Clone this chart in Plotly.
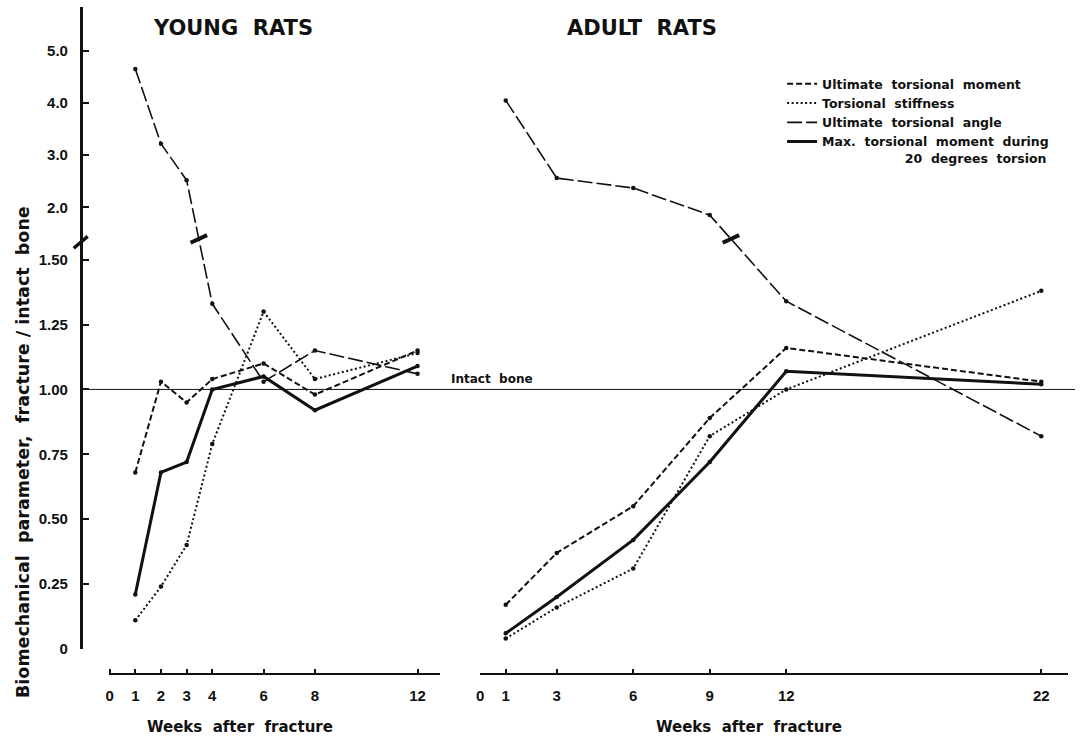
import numpy as np
import plotly.graph_objects as go

# ---------------- data ----------------
young_weeks = [1, 2, 3, 4, 6, 8, 12]
young_moment = [0.68, 1.03, 0.95, 1.04, 1.10, 0.98, 1.15]
young_stiffness = [0.11, 0.24, 0.40, 0.79, 1.30, 1.04, 1.14]
young_angle = [4.65, 3.22, 2.52, 1.33, 1.03, 1.15, 1.06]
young_max20 = [0.21, 0.68, 0.72, 1.00, 1.05, 0.92, 1.09]

adult_weeks = [1, 3, 6, 9, 12, 22]
adult_moment = [0.17, 0.37, 0.55, 0.89, 1.16, 1.03]
adult_stiffness = [0.04, 0.16, 0.31, 0.82, 1.00, 1.38]
adult_angle = [4.05, 2.56, 2.37, 1.85, 1.34, 0.82]
adult_max20 = [0.06, 0.20, 0.42, 0.72, 1.07, 1.02]

y_tick_values = [0, 0.25, 0.5, 0.75, 1.0, 1.25, 1.5, 2.0, 3.0, 4.0, 5.0]
y_tick_labels = ["0", "0.25", "0.50", "0.75", "1.00", "1.25", "1.50", "2.0", "3.0", "4.0", "5.0"]
young_xticks = [0, 1, 2, 3, 4, 6, 8, 12]
adult_xticks = [0, 1, 3, 6, 9, 12, 22]

NB = "&nbsp;"
series_names = [
    f"Ultimate{NB*2}torsional{NB*2}moment",
    f"Torsional{NB*2}stiffness",
    f"Ultimate{NB*2}torsional{NB*2}angle",
    f"Max.{NB*2}torsional{NB*2}moment{NB*2}during<br>" + NB * 19 + f"20{NB*2}degrees{NB*2}torsion",
]

# ---------------- broken y scale ----------------
BREAK_LOW = 1.5      # lower linear part 0 .. 1.5
UPPER_BASE = 1.702   # display position of value 2.0
UPPER_SCALE = 0.201  # compression of upper part (2 .. 5)
BREAK_POS = 1.58     # display position of the break marks


def to_display(v):
    v = np.asarray(v, dtype=float)
    return np.where(v <= BREAK_LOW, v, UPPER_BASE + (v - 2.0) * UPPER_SCALE)


W, H = 1083, 739
INK = "#111111"
FONT_N = "Liberation Sans Narrow, Liberation Sans, Arial, sans-serif"
FONT_W = "DejaVu Sans, Verdana, sans-serif"

styles = [
    dict(dash="6px,3px", width=2.0),
    dict(dash="2px,2.5px", width=2.0),
    dict(dash="15px,4px", width=1.6),
    dict(dash="solid", width=3.0),
]

fig = go.Figure()

panels = [
    ("x", young_weeks, [young_moment, young_stiffness, young_angle, young_max20], True),
    ("x2", adult_weeks, [adult_moment, adult_stiffness, adult_angle, adult_max20], False),
]
for xa, weeks, series, show in panels:
    for name, vals, st in zip(series_names, series, styles):
        yd = to_display(vals)
        fig.add_trace(go.Scatter(
            x=weeks, y=yd, xaxis=xa, yaxis="y",
            mode="lines", name=name, showlegend=show,
            line=dict(color=INK, width=st["width"], dash=st["dash"]),
            cliponaxis=False,
        ))
        fig.add_trace(go.Scatter(
            x=weeks, y=yd, xaxis=xa, yaxis="y",
            mode="markers", name=name, showlegend=False,
            marker=dict(size=4.5, color=INK),
            cliponaxis=False,
        ))
    # break mark on the ultimate torsional angle curve
    ang = to_display(series[2])
    for i in range(len(ang) - 1):
        if ang[i] > BREAK_POS >= ang[i + 1]:
            t = (ang[i] - BREAK_POS) / (ang[i] - ang[i + 1])
            xb = weeks[i] + t * (weeks[i + 1] - weeks[i])
            fig.add_trace(go.Scatter(
                x=[xb], y=[BREAK_POS], xaxis=xa, yaxis="y", mode="markers",
                showlegend=False, hoverinfo="skip", cliponaxis=False,
                marker=dict(symbol="line-ew", size=13, angle=-25,
                            line=dict(color=INK, width=4)),
            ))

tickfont = dict(family=FONT_N, size=15, color=INK, weight="bold")


def xaxis_style(domain, rng, ticks):
    return dict(
        domain=domain, range=rng,
        anchor="free", position=1 - 681 / H,
        tickmode="array", tickvals=ticks,
        ticks="inside", ticklen=4, tickwidth=1.5, tickcolor=INK,
        showline=True, linecolor=INK, linewidth=2.2, ticklabelstandoff=8,
        showgrid=False, zeroline=False, tickfont=tickfont,
    )


fig.update_layout(
    width=W, height=H,
    margin=dict(l=0, r=0, t=0, b=0),
    paper_bgcolor="white", plot_bgcolor="white",
    showlegend=True,
    legend=dict(
        x=781 / W, y=1 - 70 / H, xanchor="left", yanchor="top",
        bgcolor="rgba(0,0,0,0)", valign="top", tracegroupgap=0,
        font=dict(family=FONT_W, size=12.5, color=INK, weight="bold"),
    ),
    xaxis=xaxis_style([105 / W, 438 / W], [-0.04, 12.89], young_xticks),
    xaxis2=xaxis_style([478 / W, 1068 / W], [0, 23.05], adult_xticks),
    yaxis=dict(
        domain=[1 - 656 / H, 1 - 7 / H], range=[0, (656 - 7) / 262.3],
        anchor="free", position=77 / W,
        tickmode="array", tickvals=to_display(y_tick_values).tolist(),
        ticktext=y_tick_labels,
        ticks="inside", ticklen=6, tickwidth=1.8, tickcolor=INK,
        showline=True, linecolor=INK, linewidth=2.6, ticklabelstandoff=9,
        showgrid=False, zeroline=False, tickfont=tickfont,
    ),
)

# axis titles
for xc in (237, 748):
    fig.add_annotation(xref="paper", yref="paper", x=xc / W, y=1 - 735 / H,
                       xanchor="center", yanchor="middle", showarrow=False,
                       text=f"Weeks{NB*2}after{NB*2}fracture",
                       font=dict(family=FONT_W, size=15, color=INK, weight="bold"))
fig.add_annotation(xref="paper", yref="paper", x=19 / W, y=1 - 457 / H,
                   xanchor="center", yanchor="middle", showarrow=False, textangle=-90,
                   text=f"Biomechanical{NB*2}parameter,{NB*2}fracture / intact{NB*2}bone",
                   font=dict(family=FONT_W, size=17.5, color=INK, weight="bold"))

# intact bone reference line
fig.add_shape(type="line", xref="paper", yref="y", x0=78 / W, x1=1075 / W, y0=1.0, y1=1.0,
              line=dict(color=INK, width=1))
fig.add_annotation(xref="paper", yref="y", x=533 / W, y=1.0, xanchor="right", yanchor="bottom",
                   text=f"Intact{NB*2}bone", showarrow=False, yshift=1,
                   font=dict(family=FONT_W, size=12, color=INK, weight="bold"))

# y-axis break mark
fig.add_shape(type="line", xref="paper", yref="paper",
              x0=70 / W, y0=1 - 251 / H, x1=84 / W, y1=1 - 239 / H,
              line=dict(color=INK, width=3.5))

# panel titles
fig.add_annotation(xref="paper", yref="paper", x=230 / W, y=1 - 28 / H,
                   xanchor="center", yanchor="middle",
                   text=f"YOUNG{NB*2}RATS", showarrow=False,
                   font=dict(family=FONT_W, size=21, color=INK, weight="bold"))
fig.add_annotation(xref="paper", yref="paper", x=640 / W, y=1 - 28 / H,
                   xanchor="center", yanchor="middle",
                   text=f"ADULT{NB*2}RATS", showarrow=False,
                   font=dict(family=FONT_W, size=21, color=INK, weight="bold"))

fig.write_html("out.html")
